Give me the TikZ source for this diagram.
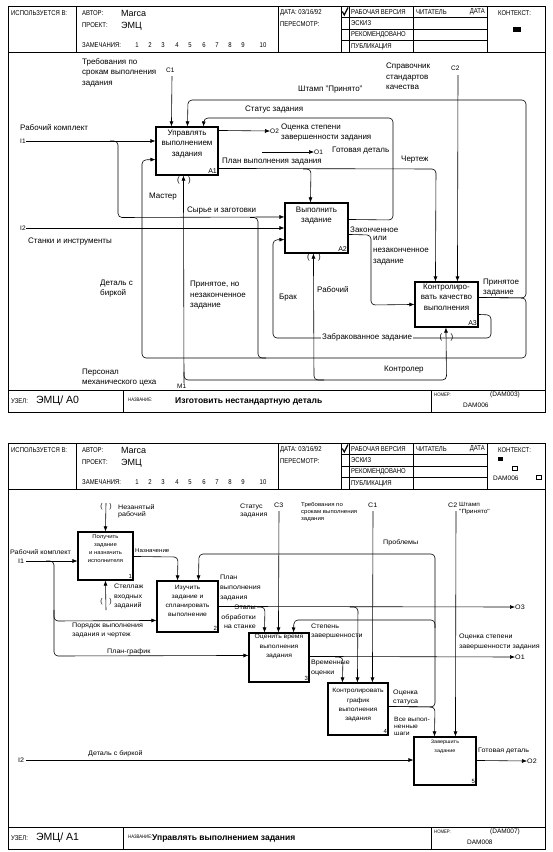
\documentclass[tikz,border=0pt]{standalone}
\usepackage{fontspec}
\setmainfont{Liberation Sans}
\newfontfamily\hdr[FakeStretch=0.85]{Liberation Sans}
\newfontfamily\wide[FakeStretch=1.1]{Liberation Sans}
\usetikzlibrary{arrows.meta}
\tikzset{
 fr/.style={line width=0.8pt},
 ln/.style={line width=0.6pt, rounded corners=4pt},
 ar/.style={ln, -{Latex[length=5pt,width=4pt]}},
 box/.style={draw, line width=1.1pt, inner sep=0pt},
 hd/.style={font=\hdr\fontsize{7}{8}\selectfont, inner sep=0pt, anchor=west},
 hs/.style={font=\hdr\fontsize{5}{6}\selectfont, inner sep=0pt, anchor=west},
 mf/.style={font=\fontsize{9}{10}\selectfont, inner sep=0pt, anchor=west},
 tl/.style={font=\fontsize{8}{10.5}\selectfont, inner sep=0pt, anchor=west, align=left},
 ts/.style={font=\fontsize{6.5}{7}\selectfont, inner sep=0pt, anchor=west},
 tb/.style={font=\fontsize{8}{10.5}\selectfont, inner sep=0pt, align=center, anchor=north},
 tn/.style={font=\fontsize{7}{8}\selectfont, inner sep=1.5pt, anchor=south east},
 par/.style={font=\fontsize{8}{8}\selectfont, inner sep=0pt},
 bl/.style={font=\wide\fontsize{6.5}{8}\selectfont, inner sep=0pt, anchor=west, align=left},
 bs/.style={font=\wide\fontsize{5.5}{7}\selectfont, inner sep=0pt, anchor=north west, align=left},
 bb/.style={font=\wide\fontsize{5.4}{8}\selectfont, inner sep=0pt, align=center, anchor=north},
 bn/.style={font=\fontsize{6}{7}\selectfont, inner sep=1.5pt, anchor=south east},
}
\newcommand\formframe[1]{%
 \draw[fr] (8,6) rectangle (545,412);
 \draw[fr] (8,52) -- (545,52) (8,390) -- (545,390);
 \draw[fr] (76,6) -- (76,52) (278,6) -- (278,52);
 \draw[fr] (341,6) -- (341,52) (349,6) -- (349,52) (413,6) -- (413,52) (487,6) -- (487,52);
 \draw[fr] (341,17.5) -- (487,17.5) (341,29) -- (487,29) (341,40.5) -- (487,40.5);
 \draw[fr] (123,390) -- (123,412) (431,390) -- (431,412);
 \draw[line width=1.2pt] (342.3,11.5) -- (344.3,15) -- (348,7.5);
 \node[hd] (#1use) at (11,13) {ИСПОЛЬЗУЕТСЯ В:};
 \node[hd] (#1aut) at (82,13) {АВТОР:};
 \node[mf] (#1autv) at (121,13) {Marca};
 \node[hd] (#1prj) at (82,25) {ПРОЕКТ:};
 \node[mf] (#1prjv) at (121,26) {ЭМЦ};
 \node[hd] (#1rem) at (82,45) {ЗАМЕЧАНИЯ:};
 \foreach \n/\x in {1/137,2/150,3/163,4/177,5/190,6/204,7/217,8/230,9/243,10/263}
   {\node[hd, anchor=center] (#1num\n) at (\x,45) {\n};}
 \node[hd] (#1dat) at (280,13) {ДАТА: 03/16/92};
 \node[hd] (#1rev) at (280,24) {ПЕРЕСМОТР:};
 \node[hd] (#1st1) at (351,12) {РАБОЧАЯ ВЕРСИЯ};
 \node[hd] (#1st2) at (416,12) {ЧИТАТЕЛЬ};
 \node[hd, anchor=east] (#1st3) at (485,12) {ДАТА};
 \node[hd] (#1st4) at (351,23.3) {ЭСКИЗ};
 \node[hd] (#1st5) at (351,34.8) {РЕКОМЕНДОВАНО};
 \node[hd] (#1st6) at (351,46.3) {ПУБЛИКАЦИЯ};
 \node[hd] (#1ctx) at (498,13) {КОНТЕКСТ:};
 \node[hd] (#1nod) at (11,401) {УЗЕЛ:};
 \node[hs] (#1nam) at (128,400) {НАЗВАНИЕ:};
 \node[hs] (#1nmb) at (434,395) {НОМЕР:};
}
\begin{document}
\begin{tikzpicture}[x=1pt,y=-1pt]
\fill[white] (0,0) rectangle (552,852);
\useasboundingbox (0,0) rectangle (552,852);

%================ TOP FORM =================
\formframe{t}
\fill (513,27) rectangle (521,32);
\node[mf, font=\fontsize{10.5}{11}\selectfont] (tnodv) at (36,401) {ЭМЦ/ А0};
\node[mf, font=\bfseries\fontsize{8.5}{10}\selectfont] (tnamv) at (175,401) {Изготовить нестандартную деталь};
\node[ts, anchor=east] (tnmb1) at (520,395) {(DAM003)};
\node[ts] (tnmb2) at (463,405) {DAM006};

% boxes
\node[box, minimum width=62pt, minimum height=48pt] (A1) at (187,151) {};
\node[tb] (A1t) at ([yshift=-3pt]A1.north) {Управлять\\выполнением\\задания};
\node[tn] (A1n) at (A1.south east) {A1};
\node[box, minimum width=63pt, minimum height=50pt] (A2) at (316.5,228) {};
\node[tb] (A2t) at ([yshift=-4pt]A2.north) {Выполнить\\задание};
\node[tn] (A2n) at (A2.south east) {A2};
\node[box, minimum width=63pt, minimum height=45pt] (A3) at (446.5,304.5) {};
\node[tb] (A3t) at ([yshift=-2pt]A3.north) {Контролиро-\\вать качество\\выполнения};
\node[tn] (A3n) at (A3.south east) {A3};

% controls
\node[tl, anchor=north west] (C1t) at (82,58) {Требования по\\срокам выполнения\\задания};
\node[ts] (C1l) at (166,70) {C1};
\draw[ar] (172,76) -- ([xshift=16pt]A1.north west);
\node[tl, anchor=north west] (C2t) at (386,63) {Справочник\\стандартов\\качества};
\node[ts] (C2l) at (451,68) {C2};
\draw[ar] (458,75) -- ([xshift=43pt]A3.north west);

% Stamp loop and tagged part loop
\draw[ar] ([yshift=-16pt]A3.north east) -- (526,298) -- (526,100) -- (188,100) -- ([xshift=32pt]A1.north west);
\node[tl] (shl) at (298,90) {Штамп "Принято"};
\draw[ar] ([yshift=-16pt]A3.north east) -- (526,298) -- (526,358) -- (142,358) -- (142,160) -- ([yshift=-33pt]A1.north west);
\node[tl, anchor=north west] (acl) at (483,278.5) {Принятое\\задание};
\node[tl, anchor=north west] (dbl) at (100,279.5) {Деталь с\\биркой};
\draw[ln] (250,217.5) -- (258,217.5) -- (258,358) -- (266,358);
\node[tl, anchor=north west] (pnl) at (190,281) {Принятое, но\\незаконченное\\задание};

% status
\draw[ar] ([yshift=-17pt]A2.north east) -- (393,220) -- (393,118) -- (204,118) -- ([xshift=48pt]A1.north west);
\node[tl] (stl) at (245,110) {Статус задания};

% outputs of A1
\node[ts] (O2l) at (270,131) {O2};
\draw[ar] ([yshift=-4pt]A1.north east) -- (O2l.west);
\node[tl, anchor=north west] (ocl) at (281,123.5) {Оценка степени\\завершенности задания};
\node[ts] (O1l) at (314,152) {O1};
\draw[ar] (262,152) -- (O1l.west);
\node[tl] (gdl) at (332,151) {Готовая деталь};
\draw[ar] ([yshift=-42pt]A1.north east) -- (436,169) -- ([xshift=21pt]A3.north west);
\draw[ar] (303,169) -- (311,169) -- ([xshift=26pt]A2.north west);
\node[tl] (pvl) at (222,162) {План выполнения задания};
\node[tl] (chl) at (401,160) {Чертеж};

% inputs
\node[tl] (rkl) at (20,128) {Рабочий комплект};
\node[ts] (I1l) at (20,141) {I1};
\draw[ar] (I1l.east) -- (I1l.east -| A1.west);
\draw[ar] (110,141) -- (118,141) -- (118,217.5) -- ([yshift=-14.5pt]A2.north west);
\node[tl] (szl) at (187,211) {Сырье и заготовки};
\node[ts] (I2l) at (20,228) {I2};
\draw[ar] (I2l.east) -- (I2l.east -| A2.west);
\node[tl] (sil) at (28,242) {Станки и инструменты};

% A2 -> A3
\draw[ar] ([yshift=-32pt]A2.north east) -- (371,235) -- (371,305) -- ([yshift=-23pt]A3.north west);
\node[tl] (zkl) at (350,230) {Законченное};
\node[tl, anchor=north west, font=\fontsize{8}{11.5}\selectfont] (zk2) at (373,236.5) {или\\незаконченное\\задание};

% rejected
\draw[ar] ([yshift=-33pt]A3.north east) -- (491,315) -- (491,338) -- (273,338) -- (273,240) -- ([yshift=-37pt]A2.north west);
\node[tl, fill=white, inner sep=1pt] (zbl) at (321,337) {Забракованное задание};
\node[tl] (brl) at (279,298) {Брак};

% mechanisms
\draw[ar] (184,383) -- ([xshift=28pt]A1.south west);
\draw[ar] (184,372) -- (184,380) -- (446.5,380) -- ([xshift=31.5pt]A3.south west);
\draw[ar] (324,380) -- (314,380) -- ([xshift=29pt]A2.south west);
\node[par] (tp1a) at (178.5,180) {(}; \node[par] (tp1b) at (189.5,180) {)};
\node[par] (tp2a) at (308.5,257) {(}; \node[par] (tp2b) at (319.5,257) {)};
\node[par] (tp3a) at (441,337) {(}; \node[par] (tp3b) at (452,337) {)};
\node[ts] (M1l) at (177,386) {M1};
\node[tl, anchor=north west] (psl) at (82,368.5) {Персонал\\механического цеха};
\node[tl] (msl) at (149,197) {Мастер};
\node[tl] (rbl) at (317,290) {Рабочий};
\node[tl] (ktl) at (384,370) {Контролер};

%================ BOTTOM FORM =================
\begin{scope}[shift={(0,437)}]
\formframe{b}
\fill (498,20) rectangle (503,24);
\draw[line width=0.5pt] (512,29) rectangle (517,33);
\node[ts] (bctx) at (493,41) {DAM006};
\draw[line width=0.5pt] (536,38) rectangle (541,42);
\node[mf, font=\fontsize{10.5}{11}\selectfont] (bnodv) at (36,401) {ЭМЦ/ А1};
\node[mf, font=\bfseries\fontsize{8.5}{10}\selectfont] (bnamv) at (152,401) {Управлять выполнением задания};
\node[ts, anchor=east] (bnmb1) at (520,395) {(DAM007)};
\node[ts] (bnmb2) at (467,405) {DAM008};
\end{scope}

% boxes
\node[box, minimum width=55pt, minimum height=48pt] (B1) at (105.5,556) {};
\node[bb] (B1t) at ([yshift=-3pt]B1.north) {Получить\\задание\\и назначить\\исполнителя};
\node[bn] (B1n) at (B1.south east) {1};
\node[box, minimum width=61pt, minimum height=51pt] (B2) at (187.5,606.5) {};
\node[bb, font=\wide\fontsize{6.2}{8.7}\selectfont] (B2t) at ([yshift=-5pt]B2.north) {Изучить\\задание и\\спланировать\\выполнение};
\node[bn] (B2n) at (B2.south east) {2};
\node[box, minimum width=60pt, minimum height=49pt] (B3) at (279,657.5) {};
\node[bb, font=\wide\fontsize{6.2}{9.5}\selectfont] (B3t) at ([yshift=-2pt]B3.north) {Оценить время\\выполнения\\задания};
\node[bn] (B3n) at (B3.south east) {3};
\node[box, minimum width=60pt, minimum height=52pt] (B4) at (358,709) {};
\node[bb, font=\wide\fontsize{6.2}{9.2}\selectfont] (B4t) at ([yshift=-6pt]B4.north) {Контролировать\\график\\выполнения\\задания};
\node[bn] (B4n) at (B4.south east) {4};
\node[box, minimum width=62pt, minimum height=48pt] (B5) at (445,761) {};
\node[bb, font=\wide\fontsize{5}{9}\selectfont] (B5t) at ([yshift=-3pt]B5.north) {Завершить\\задание};
\node[bn] (B5n) at (B5.south east) {5};

% B1 control / mechanism (tunnels)
\draw[ar] (106,503) -- ([xshift=28pt]B1.north west);
\node[par, font=\fontsize{7}{7}\selectfont] (tq1a) at (101.5,507) {(}; \node[par, font=\fontsize{7}{7}\selectfont] (tq1b) at (110.5,507) {)};
\node[bl, anchor=north west, font=\wide\fontsize{6.5}{7.5}\selectfont] (nzl) at (118,504) {Незанятый\\рабочий};
\draw[ar] (106,610) -- ([xshift=28pt]B1.south west);
\node[par, font=\fontsize{7}{7}\selectfont] (tq2a) at (101.5,602) {(}; \node[par, font=\fontsize{7}{7}\selectfont] (tq2b) at (110.5,602) {)};
\node[bl, anchor=north west, font=\wide\fontsize{6.5}{9.5}\selectfont] (stlg) at (114,584) {Стеллаж\\входных\\заданий};

% input I1
\node[bl] (brk) at (10,552) {Рабочий комплект};
\node[bl] (bI1) at (18,561) {I1};
\draw[ar] ([xshift=2pt]bI1.east) -- (bI1.east -| B1.west);
\draw[ar] (46,561) -- (54,561) -- (54,621) -- ([yshift=-40pt]B2.north west);
\draw[ar] (54,610) -- (54,656) -- ([yshift=-23pt]B3.north west);
\node[bl, anchor=north west, font=\wide\fontsize{6.5}{9}\selectfont] (pvz) at (72,623) {Порядок выполнения\\задания и чертеж};
\node[bl] (pgl) at (107,652) {План-график};

% Назначение
\draw[ar] ([yshift=-25pt]B1.north east) -- (178,557) -- ([xshift=21pt]B2.north west);
\node[bl, font=\wide\fontsize{5.6}{7}\selectfont] (nzn) at (135,551) {Назначение};

% B4 outputs
\draw[ar] ([yshift=-24pt]B4.north east) -- (435,707) -- (435,554) -- (199,554) -- ([xshift=42pt]B2.north west);
\draw[ar] ([yshift=-24pt]B4.north east) -- (435,707) -- ([xshift=21pt]B5.north west);
\draw[ar] (435,628) -- (435,620) -- (294,620) -- ([xshift=45pt]B3.north west);
\node[bl] (prb) at (383,543) {Проблемы};
\node[bl, anchor=north west, font=\wide\fontsize{6.5}{9}\selectfont] (stz) at (311,624) {Степень\\завершенности};
\node[bl, anchor=north west, font=\wide\fontsize{6.5}{9}\selectfont] (ocs) at (393,690) {Оценка\\статуса};
\node[bs, font=\wide\fontsize{6.2}{6.8}\selectfont] (vvs) at (394,717) {Все выпол-\\ненные\\шаги};

% controls
\node[bl, anchor=north west, font=\wide\fontsize{6.5}{7.5}\selectfont] (c3t) at (240,504) {Статус\\задания};
\node[bl] (c3l) at (274,505) {C3};
\draw[ar] (279,511) -- ([xshift=30pt]B3.north west);
\node[bs] (c1t) at (301,502) {Требования по\\срокам выполнения\\задания};
\node[bl] (c1l) at (368,505) {C1};
\draw[ar] (373,511) -- ([xshift=45pt]B4.north west);
\node[bl] (c2l) at (448,505) {C2};
\node[bl, anchor=north west, font=\wide\fontsize{6}{7.5}\selectfont] (c2t) at (459,502) {Штамп\\"Принято"};
\draw[ar] (456,511) -- ([xshift=42pt]B5.north west);

% B2 outputs
\node[bl] (bO3) at (515,607) {O3};
\draw[ar] ([yshift=-26pt]B2.north east) -- (bO3.west);
\draw[ar] (257,607) -- (265,607) -- ([xshift=16pt]B3.north west);
\draw[ar] (350,607) -- (358,607) -- ([xshift=30pt]B4.north west);
\node[bl, anchor=north west, font=\wide\fontsize{6.5}{10}\selectfont] (pvb) at (220,575) {План\\выполнения\\задания};
\node[bl, anchor=north east, align=right, font=\wide\fontsize{6.5}{9.5}\selectfont] (etp) at (256,605) {Этапы\\обработки\\на станке};

% B3 outputs
\node[bl] (bO1) at (515,657) {O1};
\draw[ar] ([yshift=-24pt]B3.north east) -- (bO1.west);
\draw[ar] (335,657) -- (343,657) -- ([xshift=15pt]B4.north west);
\node[bl, anchor=north west, font=\wide\fontsize{6.5}{10}\selectfont] (osz) at (459,634) {Оценка степени\\завершенности задания};
\node[bl, anchor=north west, font=\wide\fontsize{6.5}{10}\selectfont] (vro) at (311,660) {Временные\\оценки};

% I2 and O2
\node[bl] (bI2) at (18,760) {I2};
\draw[ar] ([xshift=2pt]bI2.east) -- (bI2.east -| B5.west);
\node[bl] (dsb) at (88,754) {Деталь с биркой};
\node[bl] (bO2) at (527,761) {O2};
\draw[ar] ([yshift=-24pt]B5.north east) -- (bO2.west);
\node[bl] (gdb) at (478,751) {Готовая деталь};
\end{tikzpicture}
\end{document}
